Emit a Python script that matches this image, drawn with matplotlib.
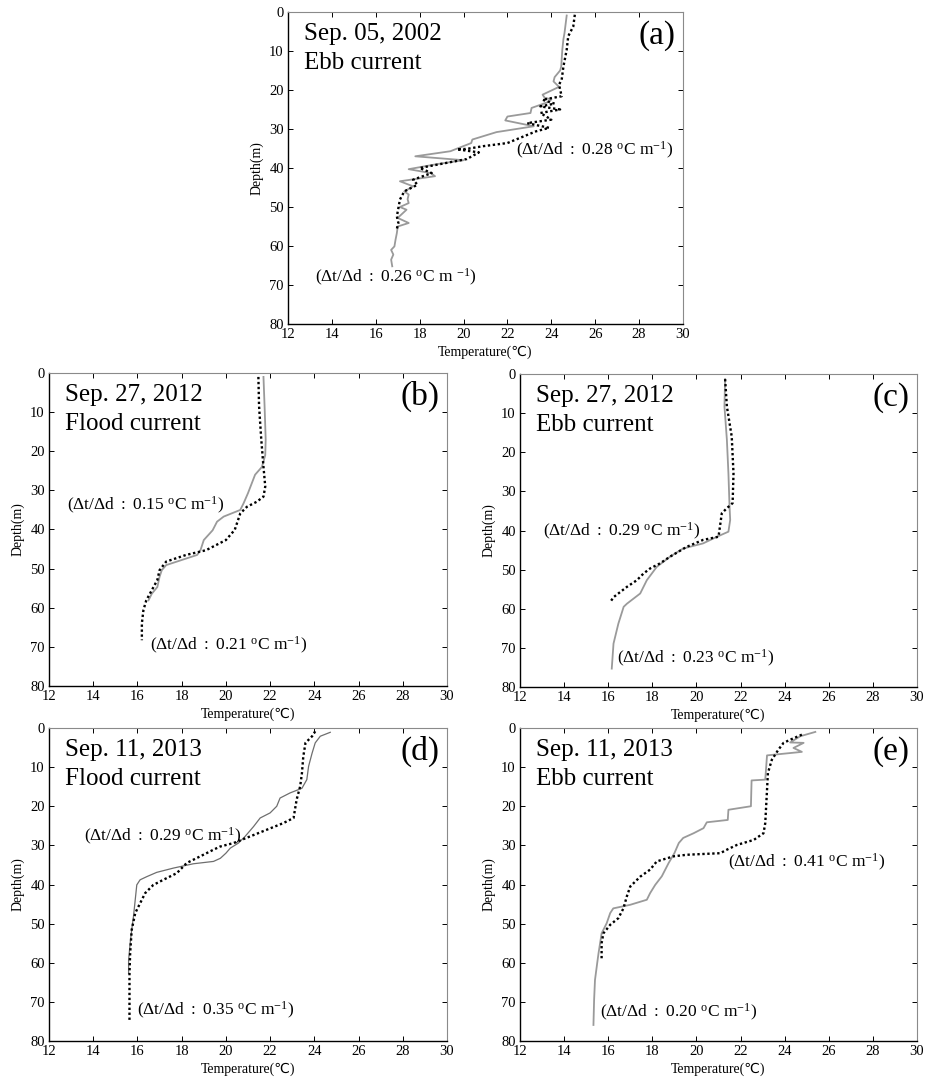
import matplotlib
matplotlib.use("Agg")
import matplotlib.pyplot as plt

plt.rcParams['font.family'] = ['Liberation Serif', 'DejaVu Sans']
plt.rcParams['mathtext.fontset'] = 'custom'
plt.rcParams['mathtext.rm'] = 'Liberation Serif'
plt.rcParams['mathtext.it'] = 'Liberation Serif'

# ---------------- data (temperature in degC, depth in m) ----------------
a_solid_T = [24.7, 24.6, 24.55, 24.5, 24.45, 24.4, 24.15, 24.1, 24.35, 23.6, 23.7, 24.0, 23.9, 23.1, 23.05,
             22.0, 21.9, 23.2, 21.5, 20.4, 20.35, 19.4, 17.8, 20.0, 18.8, 17.5, 18.5, 18.7, 17.1, 17.7,
             17.3, 17.5, 17.45, 17.5, 17.1, 17.4, 17.0, 17.5, 17.0, 16.96, 16.9, 16.85, 16.7, 16.8, 16.7, 16.75]
a_solid_d = [0.9, 5.4, 7.0, 9.7, 14.0, 15.0, 16.7, 17.8, 19.2, 21.2, 22.0, 22.4, 23.0, 24.6, 25.9,
             26.8, 27.8, 29.3, 30.8, 32.7, 33.6, 35.7, 37.0, 38.0, 39.0, 40.3, 41.3, 42.1, 43.4, 44.7,
             46.0, 46.8, 48.0, 49.0, 50.0, 50.7, 52.8, 54.1, 55.0, 56.7, 58.4, 60.1, 61.0, 62.2, 63.5, 65.2]
a_dot_T = [25.07, 25.0, 24.77, 24.7, 24.55, 24.47, 24.35, 24.47, 23.6, 24.15, 23.5, 24.4, 23.5, 24.0, 22.9,
           23.9, 23.3, 22.0, 20.9, 20.15, 19.7, 20.7, 20.15, 19.4, 18.0, 18.55, 17.7, 17.9, 17.3, 17.1,
           17.03, 16.96, 17.03, 16.96]
a_dot_d = [0.7, 3.7, 6.2, 9.7, 14.0, 17.4, 18.6, 21.6, 22.5, 23.5, 24.2, 25.0, 25.9, 27.6, 28.5,
           29.7, 30.6, 33.6, 34.4, 35.1, 35.2, 36.0, 37.7, 38.5, 40.0, 41.3, 43.0, 44.3, 46.0, 48.1,
           50.3, 52.4, 54.1, 55.6]

b_solid_T = [21.7, 21.75, 21.8, 21.78, 21.63, 21.32, 21.17, 21.0, 20.8, 20.65, 19.9, 19.6, 19.4, 19.0,
             18.85, 18.7, 18.0, 17.3, 17.1, 17.0, 16.9, 16.65, 16.5]
b_solid_d = [1.0, 8.5, 17.0, 21.0, 24.0, 26.0, 28.2, 30.7, 33.3, 35.0, 36.7, 38.0, 40.2, 42.7,
             45.3, 46.5, 47.8, 49.1, 50.4, 52.1, 54.7, 56.4, 58.1]
b_dot_T = [21.47, 21.5, 21.6, 21.7, 21.78, 21.7, 21.4, 20.95, 20.65, 20.4, 20.0, 19.1, 18.2, 17.3,
           17.0, 16.9, 16.65, 16.4, 16.27, 16.2, 16.2]
b_dot_d = [1.0, 8.5, 17.0, 24.0, 29.0, 31.6, 32.9, 34.2, 35.9, 40.1, 42.7, 45.3, 46.5, 48.2,
           50.4, 52.9, 55.5, 58.1, 60.6, 64.0, 68.3]

c_solid_T = [21.3, 21.27, 21.38, 21.45, 21.5, 21.53, 21.45, 20.93, 20.3, 19.4, 18.8, 18.2, 17.75,
             17.45, 16.85, 16.7, 16.46, 16.24, 16.16]
c_solid_d = [1.3, 8.3, 16.8, 25.4, 33.8, 37.3, 40.3, 41.6, 43.3, 44.6, 46.7, 49.3, 52.7,
             56.1, 58.7, 59.5, 63.8, 68.9, 75.3]
c_dot_T = [21.3, 21.38, 21.6, 21.68, 21.64, 21.38, 21.15, 21.0, 20.3, 19.55, 18.8, 18.35, 17.9,
           17.6, 17.3, 16.85, 16.55, 16.25, 16.1]
c_dot_d = [1.3, 8.3, 16.0, 25.4, 33.0, 34.3, 35.6, 41.6, 42.4, 44.2, 46.7, 48.4, 49.7,
           51.0, 52.7, 54.4, 55.7, 57.0, 58.2]

d_solid_T = [24.72, 24.27, 24.04, 23.9, 23.74, 23.66, 23.44, 22.9, 22.45, 22.3, 22.0, 21.55, 21.25,
             20.87, 20.57, 20.2, 20.0, 19.75, 19.44, 18.53, 17.63, 16.87, 16.42, 16.12, 15.97, 15.9,
             15.82, 15.74, 15.67, 15.6, 15.6]
d_solid_d = [1.1, 2.1, 3.8, 6.4, 9.8, 13.2, 15.4, 16.6, 17.9, 20.0, 21.7, 23.0, 25.2,
             27.7, 29.4, 30.7, 32.0, 33.3, 34.1, 34.7, 35.8, 36.9, 38.0, 38.8, 40.1, 43.9,
             48.2, 51.6, 55.0, 59.3, 62.7]
d_dot_T = [24.04, 23.9, 23.6, 23.5, 23.44, 23.36, 23.2, 23.06, 22.6, 21.85, 21.1, 20.35, 19.74,
           19.44, 18.84, 18.23, 17.78, 17.17, 16.72, 16.35, 16.12, 15.9, 15.74, 15.67, 15.64, 15.64]
d_dot_d = [0.85, 2.1, 3.8, 7.3, 11.5, 14.9, 18.3, 23.0, 24.3, 26.0, 27.7, 29.4, 30.3,
           31.1, 32.8, 34.5, 37.1, 38.8, 40.1, 42.2, 44.8, 47.3, 51.6, 57.6, 62.7, 74.6]

e_solid_T = [25.39, 24.71, 24.25, 24.86, 24.4, 24.78, 23.2, 23.12, 22.5, 22.47, 21.45, 21.42, 20.47,
             20.32, 19.87, 19.4, 19.2, 19.0, 18.74, 18.43, 18.13, 17.9, 17.75, 16.99, 16.23, 16.09,
             15.93, 15.7, 15.56, 15.5, 15.4, 15.36, 15.33]
e_solid_d = [1.0, 2.1, 3.7, 3.8, 5.1, 6.1, 7.0, 13.2, 13.4, 20.0, 20.9, 23.5, 24.1,
             25.6, 26.9, 28.1, 29.4, 32.0, 34.5, 37.9, 40.1, 42.2, 43.9, 45.2, 46.1, 47.3,
             49.9, 52.5, 57.6, 60.1, 64.4, 69.5, 75.9]
e_dot_T = [24.78, 24.25, 23.95, 23.72, 23.42, 23.24, 23.2, 23.12, 23.04, 22.6, 21.83, 21.38, 21.08,
           20.3, 19.56, 18.96, 18.2, 17.9, 17.45, 17.0, 16.84, 16.69, 16.46, 16.09, 15.78, 15.7, 15.7]
e_dot_d = [1.7, 3.0, 3.8, 5.5, 8.1, 11.5, 15.8, 24.3, 26.9, 28.6, 29.9, 31.1, 32.0,
           32.2, 32.4, 32.8, 34.1, 36.2, 38.0, 40.5, 43.1, 46.1, 48.6, 50.3, 52.5, 55.0, 59.3]

panel_labels = ['(a)', '(b)', '(c)', '(d)', '(e)']
dates = ['Sep. 05, 2002', 'Sep. 27, 2012', 'Sep. 27, 2012', 'Sep. 11, 2013', 'Sep. 11, 2013']
currents = ['Ebb current', 'Flood current', 'Ebb current', 'Flood current', 'Ebb current']
grad_upper = ['0.28', '0.15', '0.29', '0.29', '0.41']
grad_lower = ['0.26', '0.21', '0.23', '0.35', '0.20']
upper_pos = [(22.37, 35.5), (12.8, 33.9), (13.06, 40.3), (13.58, 27.7), (21.42, 34.3)]
lower_pos = [(13.24, 68.0), (16.57, 69.6), (16.39, 72.7), (16.0, 72.2), (15.63, 72.8)]
x_ticks = [12, 14, 16, 18, 20, 22, 24, 26, 28, 30]
y_ticks = [0, 10, 20, 30, 40, 50, 60, 70, 80]

solids = [(a_solid_T, a_solid_d), (b_solid_T, b_solid_d), (c_solid_T, c_solid_d),
          (d_solid_T, d_solid_d), (e_solid_T, e_solid_d)]
dots = [(a_dot_T, a_dot_d), (b_dot_T, b_dot_d), (c_dot_T, c_dot_d),
        (d_dot_T, d_dot_d), (e_dot_T, e_dot_d)]

W, H = 925, 1081
fig = plt.figure(figsize=(W / 100, H / 100), dpi=100)

boxes = [(288, 12, 683, 324), (49, 373, 447, 686), (520, 374, 917, 687),
         (49, 728, 447, 1041), (520, 728, 917, 1041)]


def grad_text(v, space_before_exp=False):
    sp = r'\ ' if space_before_exp else ''
    return r'$\mathrm{(Δt/Δd\ :\ ' + v + r'\ {}^{o}C\ m' + sp + r'^{-1})}$'


for i, (x0, y0, x1, y1) in enumerate(boxes):
    ax = fig.add_axes([x0 / W, 1 - y1 / H, (x1 - x0) / W, (y1 - y0) / H])
    sT, sd = solids[i]
    dT, dd = dots[i]
    if i == 3:
        ax.plot(sT, sd, color='#6e6e6e', lw=0.9)
    else:
        ax.plot(sT, sd, color='#9a9a9a', lw=1.3)
    ax.plot(dT, dd, color='black', lw=1.7, linestyle=(0, (1, 1.1)))
    ax.set_xlim(12, 30)
    ax.set_ylim(80, 0)
    ax.set_xticks(x_ticks)
    ax.set_yticks(y_ticks)
    ax.tick_params(direction='in', top=True, right=True, length=3.5, width=0.7,
                   labelsize=10.5, pad=3)
    for s in ['left', 'bottom']:
        ax.spines[s].set_color('black')
        ax.spines[s].set_linewidth(1.0)
    for s in ['top', 'right']:
        ax.spines[s].set_color('#8a8a8a')
        ax.spines[s].set_linewidth(0.8)
    ax.set_xlabel('Temperature(℃)', fontsize=10, labelpad=3)
    ax.set_ylabel('Depth(m)', fontsize=10, labelpad=4)
    ax.text(0.04, 0.965, dates[i] + '\n' + currents[i], transform=ax.transAxes,
            fontsize=18, va='top', ha='left', linespacing=1.4)
    ax.text(0.982, 0.975, panel_labels[i], transform=ax.transAxes,
            fontsize=24, va='top', ha='right')
    ux, uy = upper_pos[i]
    lx, ly = lower_pos[i]
    ax.text(ux, uy, grad_text(grad_upper[i]), fontsize=12.5, va='center', ha='left')
    ax.text(lx, ly, grad_text(grad_lower[i], space_before_exp=(i == 0)), fontsize=12.5,
            va='center', ha='left')

fig.savefig('out.png', dpi=100)
